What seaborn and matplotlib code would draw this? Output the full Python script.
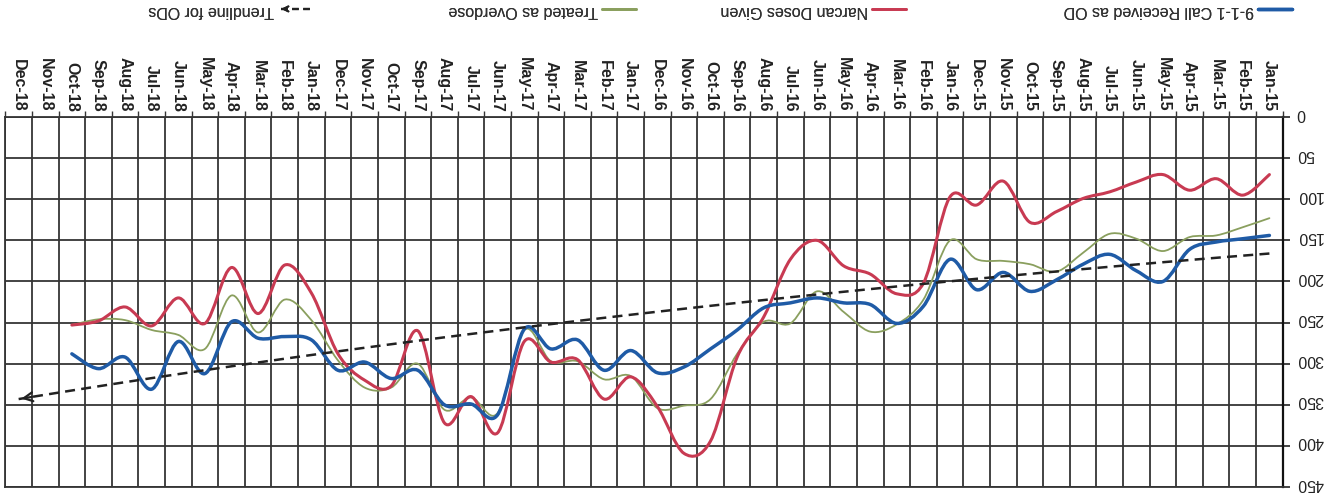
import numpy as np
import pandas as pd
import matplotlib
matplotlib.use('Agg')
import matplotlib.pyplot as plt
import seaborn as sns
from matplotlib.path import Path
from matplotlib.patches import PathPatch, FancyArrowPatch
from matplotlib.lines import Line2D
from matplotlib.legend_handler import HandlerBase
from matplotlib.transforms import ScaledTranslation

# month categories (Jan-15 .. Dec-18)
months = ['Jan-15', 'Feb-15', 'Mar-15', 'Apr-15', 'May-15', 'Jun-15', 'Jul-15', 'Aug-15', 'Sep-15', 'Oct-15', 'Nov-15', 'Dec-15',
          'Jan-16', 'Feb-16', 'Mar-16', 'Apr-16', 'May-16', 'Jun-16', 'Jul-16', 'Aug-16', 'Sep-16', 'Oct-16', 'Nov-16', 'Dec-16',
          'Jan-17', 'Feb-17', 'Mar-17', 'Apr-17', 'May-17', 'Jun-17', 'Jul-17', 'Aug-17', 'Sep-17', 'Oct-17', 'Nov-17', 'Dec-17',
          'Jan-18', 'Feb-18', 'Mar-18', 'Apr-18', 'May-18', 'Jun-18', 'Jul-18', 'Aug-18', 'Sep-18', 'Oct-18', 'Nov-18', 'Dec-18']

# monthly series, data through Oct-18
calls_od = [144, 148, 152, 161, 200, 187, 167, 179, 198, 212, 189, 210,
            173, 230, 251, 228, 226, 220, 226, 232, 259, 282, 304, 311,
            284, 308, 271, 282, 258, 362, 349, 350, 308, 318, 298, 308,
            271, 267, 269, 249, 312, 273, 331, 292, 306, 288]
narcan = [70, 95, 75, 89, 70, 79, 91, 99, 115, 128, 78, 107,
          97, 202, 215, 191, 181, 150, 173, 243, 292, 394, 409, 352,
          316, 343, 295, 298, 273, 384, 340, 372, 260, 327, 320, 288,
          214, 180, 239, 183, 251, 220, 254, 231, 248, 253]
treated = [123, 134, 144, 146, 163, 148, 142, 165, 188, 179, 175, 173,
           150, 222, 252, 261, 237, 212, 251, 249, 288, 343, 351, 354,
           315, 319, 297, 297, 259, 360, 341, 356, 300, 329, 329, 296,
           247, 222, 262, 217, 282, 265, 259, 247, 246, 253]

# exponential trendline for ODs, value at Jan-15 and at Dec-18
trend_start = 166
trend_end = 343

legend_labels = ['9-1-1 Call Received as OD', 'Narcan Doses Given', 'Treated as Overdose', 'Trendline for ODs']

idx = np.arange(len(months))
trend = trend_start * (trend_end / trend_start) ** (idx / idx[-1])

sns.set_theme(style='white')
plt.rcParams['font.family'] = ['Liberation Sans', 'DejaVu Sans']

grid_c = '#353535'
c_blue, c_red, c_green = '#1f5ba6', '#c83a52', '#8a9f5e'


def smooth_path(xs, ys):
    # Excel-style smoothed line: cubic bezier through every data point
    pts = np.column_stack([xs, ys]).astype(float)
    n = len(pts)
    verts, codes = [pts[0]], [Path.MOVETO]
    for i in range(n - 1):
        p0 = pts[i - 1] if i > 0 else pts[i]
        p1, p2 = pts[i], pts[i + 1]
        p3 = pts[i + 2] if i + 2 < n else pts[i + 1]
        verts += [p1 + (p2 - p0) / 6, p2 - (p3 - p1) / 6, p2]
        codes += [Path.CURVE4] * 3
    return Path(verts, codes)


class ArrowHandler(HandlerBase):
    def create_artists(self, legend, orig_handle, xdescent, ydescent,
                       width, height, fontsize, trans):
        y = height / 2 - ydescent
        x0 = -xdescent
        line = Line2D([x0 + 2, x0 + width], [y, y], color='#222222', lw=1.6,
                      linestyle=(0, (3, 2)), transform=trans)
        head = FancyArrowPatch((x0 + 8, y), (x0, y), arrowstyle='->', mutation_scale=9,
                               lw=1.4, color='#222222', transform=trans)
        return [line, head]


fig, ax = plt.subplots(figsize=(13.32, 4.98), dpi=100)
fig.subplots_adjust(left=0.004, right=0.963, top=0.765, bottom=0.022)

series = [(treated, c_green, 1.3), (narcan, c_red, 2.2), (calls_od, c_blue, 2.5)]
for vals, col, lw in series:
    ax.add_patch(PathPatch(smooth_path(idx[:len(vals)], vals), fill=False,
                           edgecolor=col, lw=lw, capstyle='round', joinstyle='round', zorder=3))

sns.lineplot(x=idx, y=trend, ax=ax, color='#222222', lw=1.8, linestyle=(0, (4, 2.5)), zorder=4)
ax.annotate('', xy=(idx[-1], trend[-1]), xytext=(idx[-2] + 0.4, trend[-2] + (trend[-1] - trend[-2]) * 0.4),
            arrowprops=dict(arrowstyle='->', color='#222222', lw=1.6, mutation_scale=16), zorder=4)

# chart is shown rotated by 180 degrees
ax.set_xlim(47.5, -0.5)
ax.set_ylim(450, 0)
ax.set_yticks(range(0, 451, 50))
ax.yaxis.tick_right()
ax.set_xticks(idx)
ax.set_xticklabels(months, rotation=-90, fontweight='bold')
ax.xaxis.tick_top()
ax.set_xticks(np.arange(-0.5, 48, 1), minor=True)
ax.tick_params(axis='y', which='major', labelrotation=180, labelsize=11.5, length=5,
               width=1.2, color='#222222', pad=5, labelcolor='#222222')
ax.tick_params(axis='x', which='major', length=0, labelsize=11.5, pad=4, labelcolor='#222222')
ax.tick_params(axis='x', which='minor', top=True, bottom=False, length=4, width=1, color=grid_c)
# upside-down labels sit low; lift them onto their ticks
lift = ScaledTranslation(0, 0.04, fig.dpi_scale_trans)
for t in ax.get_yticklabels():
    t.set_va('center')
    t.set_transform(t.get_transform() + lift)
ax.grid(which='major', axis='y', color=grid_c, lw=1.3)
ax.grid(which='minor', axis='x', color=grid_c, lw=1.3)
ax.grid(which='major', axis='x', visible=False)
ax.set_xlabel('')
ax.set_ylabel('')
for s in ['left', 'top', 'bottom']:
    ax.spines[s].set_color(grid_c)
    ax.spines[s].set_linewidth(1.3)
ax.spines['right'].set_color('#111111')
ax.spines['right'].set_linewidth(1.6)

# legend entries, upside down like the rest of the scan (handle right of text)
h_call = Line2D([], [], color=c_blue, lw=2.5)
h_narc = Line2D([], [], color=c_red, lw=2)
h_treat = Line2D([], [], color=c_green, lw=2)
h_trend = Line2D([], [], color='#222222', linestyle='--')
leg_right = [1292, 906, 636, 312]
for h, lab, xr in zip([h_call, h_narc, h_treat, h_trend], legend_labels, leg_right):
    leg = fig.legend([h], [lab], handler_map={h_trend: ArrowHandler()}, markerfirst=False,
                     frameon=False, loc='center right', bbox_to_anchor=(xr / 1332, 1 - 10 / 498),
                     fontsize=11.5, handlelength=2.1, handletextpad=0.3, borderpad=0, borderaxespad=0)
    for t in leg.get_texts():
        t.set_rotation(180)
        t.set_color('#333333')
    fig.add_artist(leg)

fig.savefig('out.png', dpi=100)
